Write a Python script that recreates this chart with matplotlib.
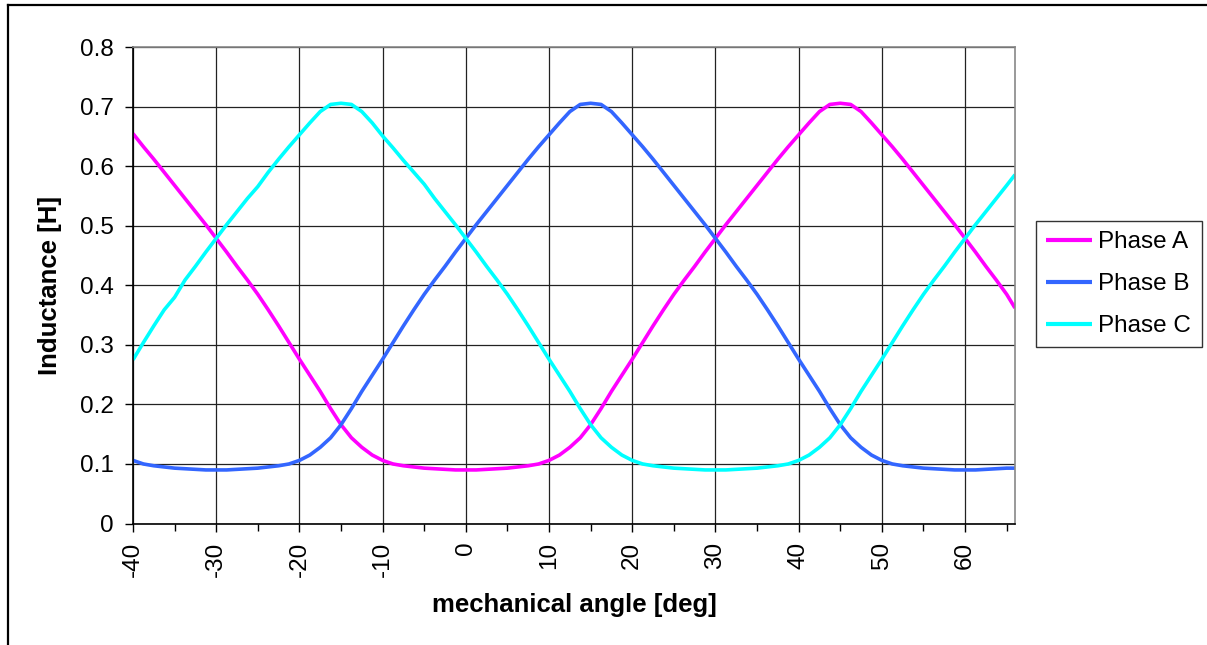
import matplotlib
matplotlib.use("Agg")
import matplotlib.pyplot as plt
from matplotlib.lines import Line2D
from matplotlib.ticker import MultipleLocator, FuncFormatter

plt.rcParams['font.family'] = ['Liberation Sans', 'DejaVu Sans']
plt.rcParams['axes.unicode_minus'] = False

angle = [-40, -38.75, -37.5, -36.25, -35, -33.75, -32.5, -31.25, -30, -28.75,
         -27.5, -26.25, -25, -23.75, -22.5, -21.25, -20, -18.75, -17.5, -16.25,
         -15, -13.75, -12.5, -11.25, -10, -8.75, -7.5, -6.25, -5, -3.75, -2.5,
         -1.25, 0, 1.25, 2.5, 3.75, 5, 6.25, 7.5, 8.75, 10, 11.25, 12.5, 13.75,
         15, 16.25, 17.5, 18.75, 20, 21.25, 22.5, 23.75, 25, 26.25, 27.5, 28.75,
         30, 31.25, 32.5, 33.75, 35, 36.25, 37.5, 38.75, 40, 41.25, 42.5, 43.75,
         45, 46.25, 47.5, 48.75, 50, 51.25, 52.5, 53.75, 55, 56.25, 57.5, 58.75,
         60, 61.25, 62.5, 63.75, 65, 66]

phase_a = [0.655, 0.633, 0.612, 0.590, 0.568, 0.546, 0.524, 0.502, 0.479, 0.456,
           0.432, 0.409, 0.385, 0.359, 0.332, 0.304, 0.276, 0.249, 0.222, 0.193,
           0.166, 0.144, 0.128, 0.115, 0.106, 0.100, 0.097, 0.095, 0.093, 0.092,
           0.091, 0.090, 0.090,
           0.090, 0.091, 0.092, 0.093, 0.095, 0.097, 0.100, 0.106, 0.115, 0.128,
           0.144, 0.166, 0.193, 0.222, 0.249, 0.276, 0.304, 0.332, 0.359, 0.385,
           0.409, 0.432, 0.456, 0.479, 0.502, 0.524, 0.546, 0.568, 0.590, 0.612,
           0.633, 0.653, 0.673, 0.692, 0.704, 0.706,
           0.704, 0.692, 0.673, 0.653, 0.633, 0.612, 0.590, 0.568, 0.546, 0.524,
           0.502, 0.479, 0.456, 0.432, 0.409, 0.385, 0.362]

phase_b = [0.106, 0.100, 0.097, 0.095, 0.093, 0.092, 0.091, 0.090, 0.090,
           0.090, 0.091, 0.092, 0.093, 0.095, 0.097, 0.100, 0.106, 0.115, 0.128,
           0.144, 0.166, 0.193, 0.222, 0.249, 0.276, 0.304, 0.332, 0.359, 0.385,
           0.409, 0.432, 0.456, 0.479, 0.502, 0.524, 0.546, 0.568, 0.590, 0.612,
           0.633, 0.653, 0.673, 0.692, 0.704, 0.706,
           0.704, 0.692, 0.673, 0.653, 0.633, 0.612, 0.590, 0.568, 0.546, 0.524,
           0.502, 0.479, 0.456, 0.432, 0.409, 0.385, 0.359, 0.332, 0.304, 0.276,
           0.249, 0.222, 0.193, 0.166, 0.144, 0.128, 0.115, 0.106, 0.100, 0.097,
           0.095, 0.093, 0.092, 0.091, 0.090, 0.090,
           0.090, 0.091, 0.092, 0.093, 0.093]

phase_c = [0.275, 0.304, 0.332, 0.359, 0.380, 0.409, 0.432, 0.456, 0.479, 0.502,
           0.524, 0.546, 0.566, 0.590, 0.612, 0.633, 0.653, 0.673, 0.692, 0.704,
           0.706,
           0.704, 0.692, 0.673, 0.651, 0.631, 0.610, 0.590, 0.570, 0.546, 0.524,
           0.502, 0.479, 0.456, 0.432, 0.409, 0.385, 0.359, 0.332, 0.304, 0.276,
           0.249, 0.222, 0.193, 0.166, 0.144, 0.128, 0.115, 0.106, 0.100, 0.097,
           0.095, 0.093, 0.092, 0.091, 0.090, 0.090,
           0.090, 0.091, 0.092, 0.093, 0.095, 0.097, 0.100, 0.106, 0.115, 0.128,
           0.144, 0.166, 0.193, 0.222, 0.249, 0.276, 0.304, 0.332, 0.359, 0.385,
           0.409, 0.432, 0.456, 0.479, 0.502, 0.524, 0.546, 0.568, 0.586]

labels = ["Phase A", "Phase B", "Phase C"]
colors = ["#FF00FF", "#3366FF", "#00FFFF"]

W, H = 1207, 645
fig = plt.figure(figsize=(W / 100, H / 100), dpi=100)
ax = fig.add_axes([133 / W, 1 - 523.5 / H, (1015 - 133) / W, (523.5 - 47.3) / H])

for ys, lab, c in zip([phase_a, phase_b, phase_c], labels, colors):
    ax.plot(angle, ys, color=c, lw=2.6, label=lab, solid_joinstyle='round', solid_capstyle='butt')

ax.set_xlim(-40, 66)
ax.set_ylim(0, 0.8)
ax.xaxis.set_major_locator(MultipleLocator(10))
ax.xaxis.set_minor_locator(MultipleLocator(5))
ax.yaxis.set_major_locator(MultipleLocator(0.1))
ax.yaxis.set_major_formatter(FuncFormatter(lambda v, p: "0" if abs(v) < 1e-9 else "%.1f" % v))
ax.grid(True, which='major', color='#222222', lw=0.9)
ax.set_axisbelow(True)

ax.tick_params(axis='both', which='major', labelsize=17.5, direction='out', length=6, width=1, color='black')
ax.tick_params(axis='y', which='major', pad=8)
ax.tick_params(axis='x', which='major', pad=7)
ax.tick_params(axis='x', which='minor', direction='out', length=5, width=1)
for lab in ax.get_xticklabels():
    lab.set_rotation(90)

ax.spines['left'].set_color('black')
ax.spines['bottom'].set_color('black')
ax.spines['top'].set_color('#888888')
ax.spines['right'].set_color('#888888')
for s in ax.spines.values():
    s.set_linewidth(1.2)

ax.set_xlabel("mechanical angle [deg]", fontsize=18.5, fontweight='bold')
ax.set_ylabel("Inductance [H]", fontsize=18.5, fontweight='bold')
ax.xaxis.set_label_coords(0.5, -0.146)
ax.yaxis.set_label_coords(-0.080, 0.5)

leg = fig.legend(loc='upper left', bbox_to_anchor=(1036 / W, 1 - 221 / H), fontsize=17.5,
                 frameon=True, fancybox=False, shadow=False, handlelength=1.9,
                 borderpad=0.42, labelspacing=0.82, handletextpad=0.25, borderaxespad=0)
leg.get_frame().set_edgecolor('black')
leg.get_frame().set_linewidth(1.0)
for h in leg.get_lines():
    h.set_linewidth(3)

# outer border of the chart area
fig.add_artist(Line2D([8 / W, 8 / W], [0, 1 - 5 / H], color='black', lw=1.6))
fig.add_artist(Line2D([8 / W, 1], [1 - 5 / H, 1 - 5 / H], color='black', lw=1.6))

fig.savefig("out.png", dpi=100)
